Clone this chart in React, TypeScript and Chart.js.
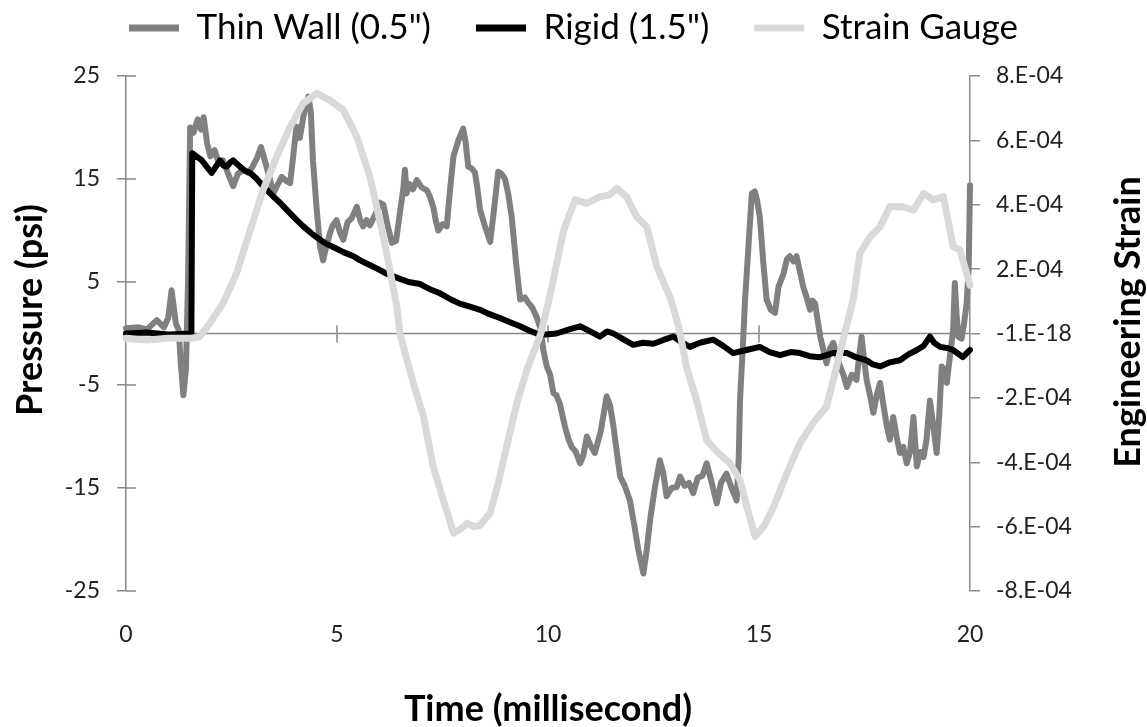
import React, { useEffect, useRef } from "react";
import { Chart, registerables } from "chart.js";

Chart.register(...registerables);

// ---------- data ----------
const SERIES_NAMES = ['Thin Wall (0.5")', 'Rigid (1.5")', "Strain Gauge"];
const X_TITLE = "Time (millisecond)";
const Y_LEFT_TITLE = "Pressure (psi)";
const Y_RIGHT_TITLE = "Engineering Strain";
const STRAIN_TICK_LABELS = ["-8.E-04", "-6.E-04", "-4.E-04", "-2.E-04", "-1.E-18", "2.E-04", "4.E-04", "6.E-04", "8.E-04"];

const THIN_T = [
  0, 0.3, 0.5, 0.73, 0.9, 1.0, 1.08, 1.18, 1.25, 1.3, 1.36, 1.42, 1.47, 1.52, 1.6, 1.7, 1.78, 1.84, 1.92, 2.0,
  2.1, 2.2, 2.3, 2.42, 2.54, 2.65, 2.78, 2.9, 3.0, 3.1, 3.2, 3.33, 3.42, 3.49, 3.6, 3.69, 3.8, 3.89, 3.97, 4.04,
  4.12, 4.2, 4.32, 4.38, 4.43, 4.52, 4.6, 4.67, 4.75, 4.83, 4.9, 4.99, 5.07, 5.15, 5.25, 5.35, 5.47, 5.55, 5.62, 5.7,
  5.78, 5.9, 6.02, 6.1, 6.2, 6.3, 6.4, 6.5, 6.57, 6.61, 6.65, 6.72, 6.8, 6.89, 7.0, 7.13, 7.2, 7.28, 7.34, 7.4,
  7.5, 7.6, 7.68, 7.76, 7.88, 7.99, 8.05, 8.11, 8.2, 8.27, 8.33, 8.39, 8.5, 8.63, 8.72, 8.82, 8.9, 8.98, 9.06, 9.14,
  9.24, 9.34, 9.45, 9.53, 9.63, 9.73, 9.82, 9.89, 9.97, 10.05, 10.13, 10.2, 10.28, 10.4, 10.48, 10.56, 10.66, 10.76, 10.84, 10.92,
  11.0, 11.11, 11.25, 11.39, 11.47, 11.55, 11.63, 11.71, 11.82, 11.94, 12.04, 12.14, 12.26, 12.34, 12.42, 12.53, 12.65, 12.73, 12.81, 12.93,
  13.05, 13.13, 13.24, 13.34, 13.44, 13.55, 13.66, 13.76, 13.88, 14.0, 14.1, 14.23, 14.35, 14.47, 14.52, 14.55, 14.62, 14.67, 14.83, 14.9,
  14.95, 15.02, 15.1, 15.18, 15.28, 15.38, 15.46, 15.58, 15.66, 15.73, 15.82, 15.89, 15.97, 16.05, 16.13, 16.21, 16.27, 16.33, 16.4, 16.45,
  16.52, 16.6, 16.68, 16.76, 16.84, 16.92, 17.0, 17.08, 17.2, 17.31, 17.38, 17.43, 17.49, 17.55, 17.63, 17.71, 17.79, 17.87, 17.95, 18.03,
  18.1, 18.18, 18.26, 18.34, 18.42, 18.5, 18.58, 18.66, 18.74, 18.82, 18.9, 18.97, 19.05, 19.13, 19.21, 19.27, 19.33, 19.39, 19.45, 19.53,
  19.6, 19.64, 19.68, 19.72, 19.8, 19.86, 19.92, 19.97, 20.0,
];
const THIN_P = [
  0.5, 0.6, 0.4, 1.3, 0.6, 1.5, 4.2, 1.0, 0.3, -3, -6.0, -3.5, 5, 20.0, 19.5, 20.8, 19.8, 21.0, 18.5, 17.2,
  17.8, 16.5, 16.8, 15.5, 14.3, 15.5, 15.9, 15.6, 16.2, 17.0, 18.1, 16.2, 14.8, 13.6, 14.5, 15.2, 14.8, 14.6, 17.5, 20.1,
  19.0, 21.0, 23.0, 21.5, 16.8, 12.0, 8.4, 7.1, 8.5, 9.7, 10.5, 11.0, 9.8, 9.1, 10.8, 11.2, 12.3, 11.0, 10.4, 11.0,
  10.5, 11.5, 12.7, 12.5, 10.5, 8.8, 9.0, 12.0, 14.0, 15.9, 13.6, 14.5, 14.0, 14.9, 14.2, 13.9, 13.3, 12.3, 11.0, 10.0,
  10.6, 10.4, 14.0, 17.2, 18.8, 19.9, 18.5, 16.2, 16.0, 15.6, 14.0, 12.0, 10.5, 8.9, 12.0, 15.7, 15.5, 15.0, 13.5, 11.3,
  7.0, 3.3, 3.5, 3.0, 2.5, 1.6, 0.5, -1.6, -3.2, -4.0, -5.8, -6.0, -6.8, -9.0, -10.2, -11.0, -11.5, -12.6, -11.8, -10.0,
  -10.8, -11.6, -9.5, -6.1, -7.0, -9.0, -11.5, -13.9, -14.8, -16.2, -18.5, -21.0, -23.3, -21.0, -18.1, -15.0, -12.3, -13.5, -15.8, -15.0,
  -14.9, -13.9, -14.8, -14.5, -15.5, -14.0, -13.8, -12.6, -14.5, -16.5, -14.5, -13.6, -15.0, -16.2, -12, -6.5, -1, 3.3, 13.6, 13.8,
  13.0, 11.3, 7.0, 3.3, 2.3, 2.0, 4.5, 5.8, 7.2, 7.5, 7.0, 7.5, 6.0, 4.5, 3.5, 2.3, 3.2, 2.9, 1.0, -0.3,
  -1.5, -2.9, -1.5, -0.9, -2.0, -3.2, -4.0, -5.2, -4.0, -4.5, -2.0, -0.3, -2.5, -4.5, -6.0, -7.7, -6.0, -4.8, -7.0, -9.0,
  -10.3, -8.1, -10.0, -11.6, -11.0, -12.6, -11.5, -8.1, -12.9, -11.5, -12.0, -10.3, -6.5, -9.0, -11.6, -8.0, -3.2, -3.5, -4.8, -2.0,
  0.3, 4.9, 2.0, -0.3, -0.5, 1.0, 2.9, 6.5, 14.4,
];

const RIGID_T = [
  0, 0.5, 1.0, 1.55, 1.57, 1.67, 1.8, 1.91, 2.03, 2.13, 2.23, 2.31, 2.39, 2.47, 2.54, 2.62, 2.7, 2.82, 2.94, 3.1,
  3.25, 3.37, 3.49, 3.65, 3.81, 4.0, 4.2, 4.4, 4.6, 4.75, 4.91, 5.15, 5.39, 5.55, 5.7, 5.95, 6.18, 6.49, 6.7, 6.97,
  7.2, 7.44, 7.7, 7.91, 8.15, 8.39, 8.6, 8.86, 9.1, 9.34, 9.55, 9.73, 9.95, 10.2, 10.5, 10.76, 11.0, 11.23, 11.4, 11.55,
  11.8, 12.02, 12.25, 12.5, 12.75, 12.97, 13.15, 13.36, 13.6, 13.92, 14.15, 14.39, 14.7, 15.02, 15.25, 15.5, 15.75, 15.97, 16.2, 16.45,
  16.75, 17.08, 17.3, 17.55, 17.7, 17.87, 18.1, 18.34, 18.55, 18.74, 18.9, 19.05, 19.15, 19.29, 19.45, 19.6, 19.83, 20.0,
];
const RIGID_P = [
  0.0, 0.1, -0.1, 0.0, 17.5, 17.2, 16.8, 16.2, 15.6, 16.2, 16.8, 16.3, 16.2, 16.6, 16.8, 16.5, 16.2, 15.8, 15.6, 15.0,
  14.3, 13.8, 13.3, 12.7, 12.0, 11.2, 10.4, 9.7, 9.1, 8.7, 8.4, 7.9, 7.5, 7.1, 6.8, 6.3, 5.8, 5.3, 5.0, 4.8,
  4.3, 3.9, 3.3, 2.9, 2.6, 2.3, 1.9, 1.5, 1.1, 0.7, 0.3, 0.0, -0.1, 0.0, 0.4, 0.7, 0.2, -0.3, 0.2, 0.0,
  -0.6, -1.1, -0.9, -1.0, -0.6, -0.3, -0.8, -1.3, -0.9, -0.6, -1.2, -1.9, -1.6, -1.3, -1.8, -2.1, -1.8, -1.9, -2.2, -2.3,
  -1.9, -1.9, -2.3, -2.6, -3.0, -3.2, -2.8, -2.6, -2.0, -1.6, -1.2, -0.3, -0.9, -1.3, -1.4, -1.6, -2.3, -1.6,
];

const STRAIN_T = [
  0, 0.5, 1.0, 1.52, 1.75, 1.99, 2.3, 2.62, 2.94, 3.25, 3.57, 3.89, 4.2, 4.52, 4.83, 5.15, 5.47, 5.78, 6.1, 6.42,
  6.49, 6.81, 7.05, 7.28, 7.52, 7.76, 7.9, 8.08, 8.25, 8.39, 8.63, 8.82, 9.02, 9.26, 9.5, 9.83, 10.05, 10.37, 10.64, 10.92,
  11.23, 11.45, 11.63, 11.86, 12.1, 12.34, 12.58, 12.9, 13.1, 13.28, 13.52, 13.76, 14.04, 14.31, 14.55, 14.71, 14.91, 15.11, 15.35, 15.66,
  15.97, 16.28, 16.6, 16.84, 17.03, 17.23, 17.39, 17.63, 17.87, 18.1, 18.42, 18.66, 18.9, 19.13, 19.37, 19.6, 19.76, 20.0,
];
const STRAIN_E = [
  -0.15e-4, -0.2e-4, -0.15e-4, -0.15e-4, -0.1e-4, 0.32e-4, 0.94e-4, 1.87e-4, 3.2e-4, 4.46e-4, 5.49e-4, 6.42e-4, 7.15e-4, 7.46e-4, 7.25e-4, 6.94e-4, 6.11e-4, 4.87e-4, 3.0e-4, 0.83e-4,
  0, -1.55e-4, -2.58e-4, -4.14e-4, -5.17e-4, -6.2e-4, -6.1e-4, -5.9e-4, -6.0e-4, -5.96e-4, -5.58e-4, -4.65e-4, -3.52e-4, -2.17e-4, -1.13e-4, 0, 1.2e-4, 3.2e-4, 4.15e-4, 4.04e-4,
  4.25e-4, 4.3e-4, 4.51e-4, 4.25e-4, 3.63e-4, 3.32e-4, 2.07e-4, 1.1e-4, 0.2e-4, -1.03e-4, -2.07e-4, -3.31e-4, -3.72e-4, -4.03e-4, -4.55e-4, -5.38e-4, -6.31e-4, -6.0e-4, -5.38e-4, -4.34e-4,
  -3.41e-4, -2.79e-4, -2.27e-4, -1.03e-4, 0, 1.04e-4, 2.49e-4, 3.0e-4, 3.32e-4, 3.94e-4, 3.94e-4, 3.83e-4, 4.35e-4, 4.15e-4, 4.25e-4, 2.7e-4, 2.6e-4, 1.5e-4,
];

// ---------- styling ----------
const FONT = "Lato, 'Open Sans', sans-serif";
const AXIS_COLOR = "#898989";
const TICK_COLOR = "#222222";
const TITLE_FONT = `bold 36px ${FONT}`;

const axisDecor = {
  id: "axisDecor",
  beforeDatasetsDraw(chart: any) {
    const { ctx, chartArea, scales } = chart;
    const xs = scales.x;
    const ys = scales.y;
    const y0 = ys.getPixelForValue(0);
    ctx.save();
    ctx.strokeStyle = AXIS_COLOR;
    ctx.lineWidth = 1.5;
    ctx.beginPath();
    ctx.moveTo(chartArea.left, y0);
    ctx.lineTo(chartArea.right, y0);
    xs.ticks.forEach((t: any) => {
      if (t.value <= xs.min || t.value >= xs.max) return;
      const px = xs.getPixelForValue(t.value);
      ctx.moveTo(px, y0 - 8);
      ctx.lineTo(px, y0 + 9);
    });
    ys.ticks.forEach((t: any) => {
      const py = ys.getPixelForValue(t.value);
      ctx.moveTo(chartArea.left, py);
      ctx.lineTo(chartArea.left + 10, py);
    });
    ctx.stroke();
    ctx.restore();
  },
  afterDraw(chart: any) {
    const { ctx } = chart;
    const drawVertical = (text: string, cx: number, cy: number) => {
      ctx.save();
      ctx.fillStyle = "#000";
      ctx.font = TITLE_FONT;
      ctx.textAlign = "center";
      ctx.textBaseline = "middle";
      ctx.translate(cx, cy);
      ctx.rotate(-Math.PI / 2);
      ctx.fillText(text, 0, 0);
      ctx.restore();
    };
    drawVertical(Y_LEFT_TITLE, 30, 310);
    drawVertical(Y_RIGHT_TITLE, 1128, 322);
  },
};

export default function App() {
  const ref = useRef<HTMLCanvasElement | null>(null);

  useEffect(() => {
    if (!ref.current) return;
    const baseLabels = (Chart as any).defaults.plugins.legend.labels.generateLabels;
    const chart = new Chart(ref.current, {
      type: "line",
      data: {
        datasets: [
          {
            label: SERIES_NAMES[0],
            data: THIN_T.map((t, i) => ({ x: t, y: THIN_P[i] })),
            borderColor: "#808080",
            backgroundColor: "#808080",
            borderWidth: 6,
            pointRadius: 0,
            yAxisID: "y",
            order: 3,
            borderJoinStyle: "round",
            borderCapStyle: "round",
          },
          {
            label: SERIES_NAMES[1],
            data: RIGID_T.map((t, i) => ({ x: t, y: RIGID_P[i] })),
            borderColor: "#000000",
            backgroundColor: "#000000",
            borderWidth: 6,
            pointRadius: 0,
            yAxisID: "y",
            order: 2,
            borderJoinStyle: "round",
            borderCapStyle: "round",
          },
          {
            label: SERIES_NAMES[2],
            data: STRAIN_T.map((t, i) => ({ x: t, y: STRAIN_E[i] })),
            borderColor: "#d9d9d9",
            backgroundColor: "#d9d9d9",
            borderWidth: 7,
            pointRadius: 0,
            yAxisID: "y1",
            order: 1,
            borderJoinStyle: "round",
            borderCapStyle: "round",
          },
        ],
      },
      options: {
        responsive: false,
        animation: false,
        layout: { padding: { top: -34.5, left: 0, right: 0, bottom: 0 }, autoPadding: false },
        plugins: {
          tooltip: { enabled: false },
          legend: {
            position: "top",
            align: "center",
            labels: {
              usePointStyle: true,
              pointStyle: "line",
              pointStyleWidth: 50,
              padding: 45,
              color: "#000",
              font: { family: FONT, size: 35 },
              sort: (a: any, b: any) => a.datasetIndex - b.datasetIndex,
              generateLabels: (c: any) => baseLabels(c).map((l: any) => ({ ...l, lineWidth: 7 })),
            },
          },
        },
        scales: {
          xTop: {
            type: "linear",
            position: "top",
            display: true,
            ticks: { display: false },
            grid: { display: false, drawTicks: false },
            border: { display: false },
            afterFit: (s: any) => {
              s.height = 20.5;
            },
          },
          x: {
            type: "linear",
            position: "bottom",
            min: 0,
            max: 20,
            ticks: { stepSize: 5, padding: 30, color: TICK_COLOR, font: { family: FONT, size: 23 }, maxRotation: 0 },
            grid: { display: false, drawTicks: false },
            border: { display: false },
            title: {
              display: true,
              text: X_TITLE,
              color: "#000",
              font: { family: FONT, size: 36, weight: "bold", lineHeight: 1.0 },
              padding: { top: 0, bottom: 0 },
            },
            afterFit: (s: any) => {
              s.height = 136;
            },
          },
          y: {
            type: "linear",
            position: "left",
            min: -25,
            max: 25,
            ticks: { stepSize: 10, padding: 17, color: TICK_COLOR, font: { family: FONT, size: 23 } },
            grid: { drawOnChartArea: false, tickLength: 9, color: AXIS_COLOR, lineWidth: 1.5 },
            border: { color: AXIS_COLOR, width: 1.5 },
            afterFit: (s: any) => {
              s.width = 126;
            },
          },
          y1: {
            type: "linear",
            position: "right",
            min: -8e-4,
            max: 8e-4,
            ticks: {
              stepSize: 2e-4,
              padding: 16,
              color: TICK_COLOR,
              font: { family: FONT, size: 23 },
              callback: (_v: any, i: number) => STRAIN_TICK_LABELS[i],
            },
            grid: { drawOnChartArea: false, tickLength: 10, color: AXIS_COLOR, lineWidth: 1.5 },
            border: { color: AXIS_COLOR, width: 1.5 },
            afterFit: (s: any) => {
              s.width = 177;
            },
          },
        },
      } as any,
      plugins: [axisDecor],
    });
    return () => chart.destroy();
  }, []);

  return (
    <div style={{ position: "absolute", left: 0, top: 0, width: 1147, height: 727, background: "#fff" }}>
      <canvas ref={ref} width={1147} height={727} style={{ display: "block" }} />
    </div>
  );
}
